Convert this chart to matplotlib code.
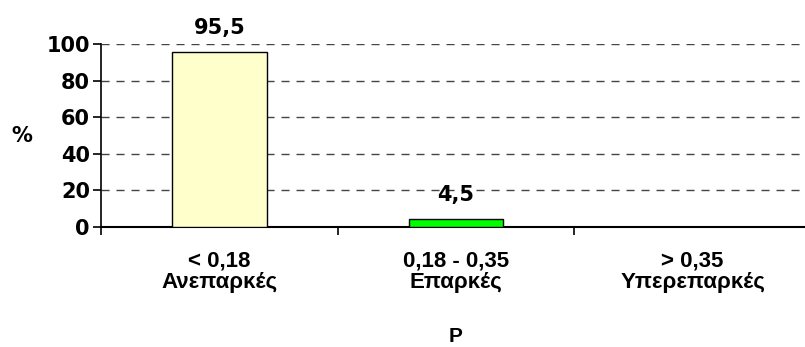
import numpy as np
import matplotlib.pyplot as plt

plt.rcParams['font.family'] = ['Liberation Sans', 'DejaVu Sans']
plt.rcParams['font.weight'] = 'bold'

categories = ['< 0,18\nΑνεπαρκές', '0,18 - 0,35\nΕπαρκές', '> 0,35\nΥπερεπαρκές']
values = [95.5, 4.5, 0.0]
labels = ['95,5', '4,5', None]
colors = ['#FFFFCC', '#00FF00', '#FFFFCC']
yticks = [0, 20, 40, 60, 80, 100]

# numbers on the value axis and above the bars use a wider face
num_font = dict(family='DejaVu Sans', fontsize=15, fontweight='bold')

fig = plt.figure(figsize=(8.05, 3.47), dpi=100)
ax = fig.add_axes([101 / 805, 120 / 347, 710 / 805, 183 / 347])

x = np.arange(len(categories))
bars = ax.bar(x, values, width=0.4, color=colors, edgecolor='black', linewidth=1.0, zorder=3)
for b, v, lab in zip(bars, values, labels):
    if lab is None or v == 0:
        continue
    ax.annotate(lab, (b.get_x() + b.get_width() / 2, v), xytext=(0, 10),
                textcoords='offset points', ha='center', va='bottom', **num_font)

ax.set_xlim(-0.5, 2.5)
ax.set_ylim(0, 100)
ax.set_yticks(yticks)
ax.set_yticklabels([str(t) for t in yticks], **num_font)
ax.set_xticks([-0.5, 0.5, 1.5, 2.5])
ax.set_xticklabels([])
ax.set_xticks(x, minor=True)
ax.set_xticklabels(categories, minor=True, fontsize=16, fontweight='bold', linespacing=1.05)
ax.tick_params(axis='x', which='minor', length=0, pad=17)
ax.tick_params(axis='x', which='major', length=6, width=1.2, direction='out')
ax.tick_params(axis='y', length=6, width=1.2, direction='out', pad=2)

ax.yaxis.grid(True, linestyle=(0, (5.8, 5.0)), color='#444444', linewidth=1.0, zorder=0)
ax.spines['top'].set_visible(False)
ax.spines['right'].set_visible(False)
ax.spines['left'].set_linewidth(1.2)
ax.spines['bottom'].set_linewidth(1.5)

ax.set_ylabel('%', rotation=0, labelpad=18, va='center', **num_font)
ax.set_xlabel('P', fontsize=15, fontweight='bold', labelpad=24)

fig.savefig('out.png', dpi=100)
